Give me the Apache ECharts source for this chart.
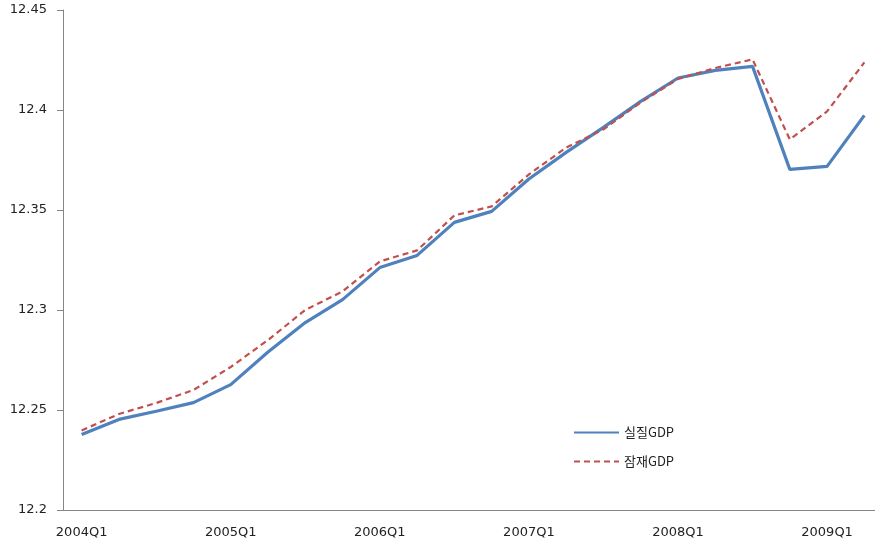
<!DOCTYPE html>
<html>
<head>
<meta charset="utf-8">
<script src="https://cdn.jsdelivr.net/npm/echarts@6/dist/echarts.min.js"></script>
<style>
  html, body { margin: 0; padding: 0; background: #fff; overflow: hidden; }
  /* 오른쪽 끝은 원본처럼 창 밖으로 잘림 */
  #line { width: 883px; height: 548px; }
</style>
</head>
<body>
<div id="line"></div>
<script type="text/javascript">
// 분기
var quarters = [
  "2004Q1", "2004Q2", "2004Q3", "2004Q4",
  "2005Q1", "2005Q2", "2005Q3", "2005Q4",
  "2006Q1", "2006Q2", "2006Q3", "2006Q4",
  "2007Q1", "2007Q2", "2007Q3", "2007Q4",
  "2008Q1", "2008Q2", "2008Q3", "2008Q4",
  "2009Q1", "2009Q2"
];
// 실질GDP (log)
var realGdp = [
  12.2378, 12.2453, 12.2494, 12.2537, 12.2627, 12.2790, 12.2937, 12.3052,
  12.3212, 12.3273, 12.3438, 12.3493, 12.3655, 12.3788, 12.3913, 12.4043,
  12.4160, 12.4198, 12.4218, 12.3703, 12.3718, 12.3973
];
// 잠재GDP (log)
var potentialGdp = [
  12.2398, 12.2480, 12.2535, 12.2600, 12.2715, 12.2850, 12.3000, 12.3093,
  12.3243, 12.3298, 12.3473, 12.3518, 12.3678, 12.3812, 12.3903, 12.4038,
  12.4155, 12.4210, 12.4253, 12.3853, 12.3993, 12.4238
];
var seriesNames = ["실질GDP", "잠재GDP"];

var myChart = echarts.init(document.getElementById("line"));
var axisColor = "#868686";
var textColor = "#222";

var option = {
  animation: false,
  backgroundColor: "#fff",
  legend: {
    orient: "vertical",
    left: 568,
    top: 421,
    itemWidth: 45,
    itemHeight: 14,
    itemGap: 16,
    itemStyle: { opacity: 0 },
    textStyle: { fontFamily: "Noto Sans CJK KR", fontSize: 13, color: textColor },
    data: seriesNames
  },
  grid: { left: 63, top: 10, right: 0, bottom: 38 },
  xAxis: {
    type: "category",
    data: quarters,
    boundaryGap: true,
    axisLine: { lineStyle: { color: axisColor, width: 1 } },
    axisTick: { interval: 0, length: 5, lineStyle: { color: axisColor } },
    axisLabel: {
      interval: 3,
      margin: 16,
      fontFamily: "DejaVu Sans",
      fontSize: 13,
      color: textColor
    },
    splitLine: { show: false }
  },
  yAxis: {
    type: "value",
    min: 12.2,
    max: 12.45,
    interval: 0.05,
    axisLine: { show: true, lineStyle: { color: axisColor, width: 1 } },
    axisTick: { show: true, length: 6, lineStyle: { color: axisColor } },
    axisLabel: {
      margin: 16,
      fontFamily: "DejaVu Sans",
      fontSize: 13,
      color: textColor
    },
    splitLine: { show: false }
  },
  series: [
    {
      name: seriesNames[0],
      type: "line",
      data: realGdp,
      symbol: "none",
      z: 2,
      lineStyle: { color: "#4F81BD", width: 3.2 },
      itemStyle: { color: "#4F81BD" }
    },
    {
      name: seriesNames[1],
      type: "line",
      data: potentialGdp,
      symbol: "none",
      z: 3,
      lineStyle: { color: "#C0504D", width: 2.2, type: [6, 4] },
      itemStyle: { color: "#C0504D" }
    }
  ]
};
myChart.setOption(option);
</script>
</body>
</html>
